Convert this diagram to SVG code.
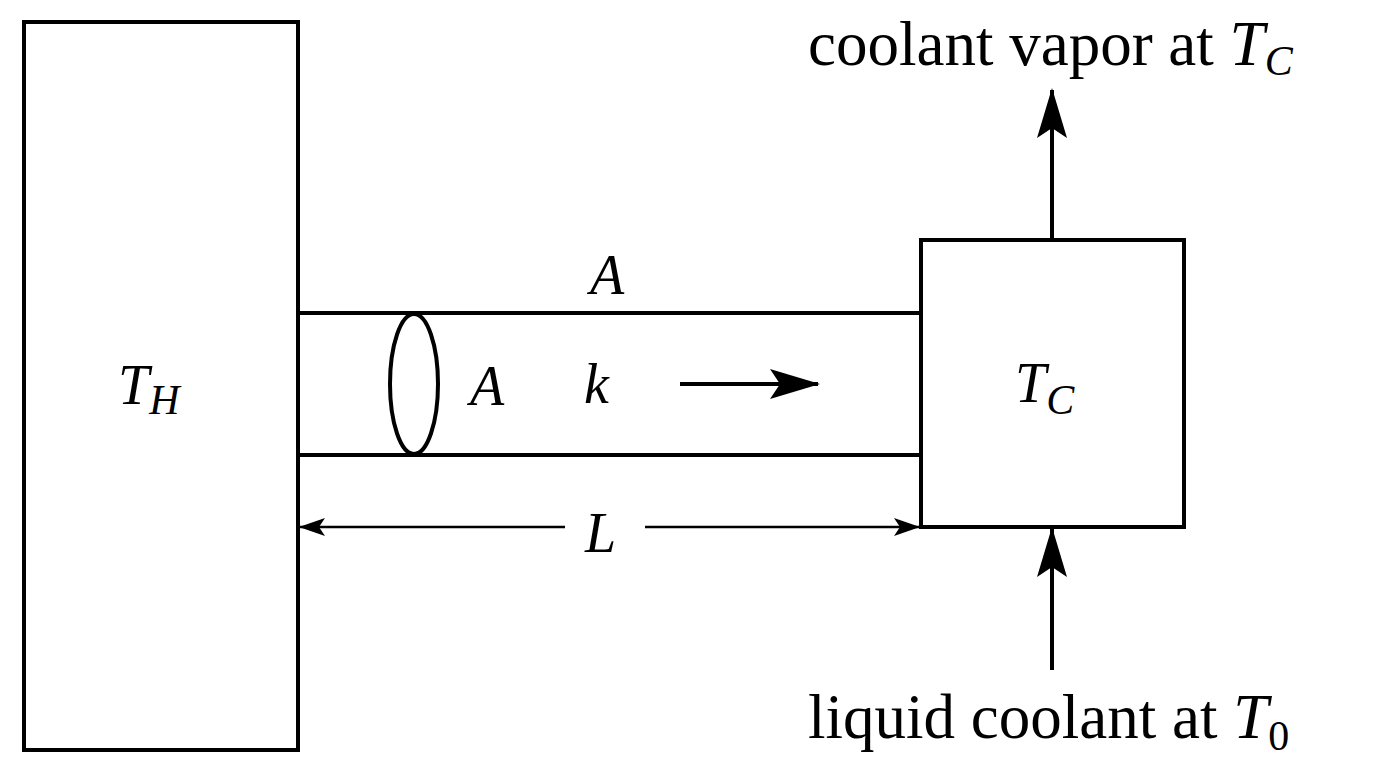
<svg xmlns="http://www.w3.org/2000/svg" width="1376" height="768" viewBox="0 0 1376 768">
<style>
.s{fill:none;stroke:#000;stroke-width:4}
.t{font-family:"Liberation Serif","DejaVu Serif",serif;font-size:56px;fill:#000}
.lb{font-size:63px}
.i{font-style:italic}
.sub{font-size:42px;font-style:italic}
.up{font-size:42px;font-style:normal}
</style>
<defs>
<marker id="big" viewBox="0 0 50 30" refX="48" refY="15" markerWidth="50" markerHeight="30" markerUnits="userSpaceOnUse" orient="auto"><path d="M0,0 L50,15 L0,30 L10,15 Z" fill="#000"/></marker>
<marker id="sm" viewBox="0 0 26 18" refX="25" refY="9" markerWidth="26" markerHeight="18" markerUnits="userSpaceOnUse" orient="auto-start-reverse"><path d="M0,0 L26,9 L0,18 L6,9 Z" fill="#000"/></marker>
</defs>
<rect width="1376" height="768" fill="#fff"/>
<g id="hot"><rect class="s" x="24" y="22" width="274" height="728"/><text class="t i" x="118" y="404">T<tspan class="sub" dy="10">H</tspan></text></g>
<g id="rod"><line class="s" x1="298" y1="313" x2="921" y2="313"/><line class="s" x1="298" y1="455" x2="921" y2="455"/><ellipse class="s" cx="414" cy="384" rx="24" ry="70"/>
<text class="t i" x="590" y="294">A</text><text class="t i" x="470" y="405">A</text><text class="t i" x="584" y="403">k</text></g>
<g id="cold"><rect class="s" x="921" y="240" width="263" height="287"/><text class="t i" x="1015" y="402">T<tspan class="sub" dy="12">C</tspan></text></g>
<g id="connectors">
<line class="s" x1="680" y1="384" x2="818" y2="384" marker-end="url(#big)"/>
<line class="s" x1="1052" y1="240" x2="1052" y2="90" marker-end="url(#big)"/>
<line class="s" x1="1052" y1="670" x2="1052" y2="529" marker-end="url(#big)"/>
<line style="stroke:#000;stroke-width:2.5" x1="300" y1="527" x2="565" y2="527" marker-start="url(#sm)"/>
<line style="stroke:#000;stroke-width:2.5" x1="645" y1="527" x2="919" y2="527" marker-end="url(#sm)"/>
</g>
<text class="t i" x="585" y="552">L</text>
<text class="t lb" x="808" y="65">coolant vapor at <tspan class="i">T</tspan><tspan class="sub" dy="10">C</tspan></text>
<text class="t lb" x="808" y="738">liquid coolant at <tspan class="i">T</tspan><tspan class="up" dy="12">0</tspan></text>
</svg>
